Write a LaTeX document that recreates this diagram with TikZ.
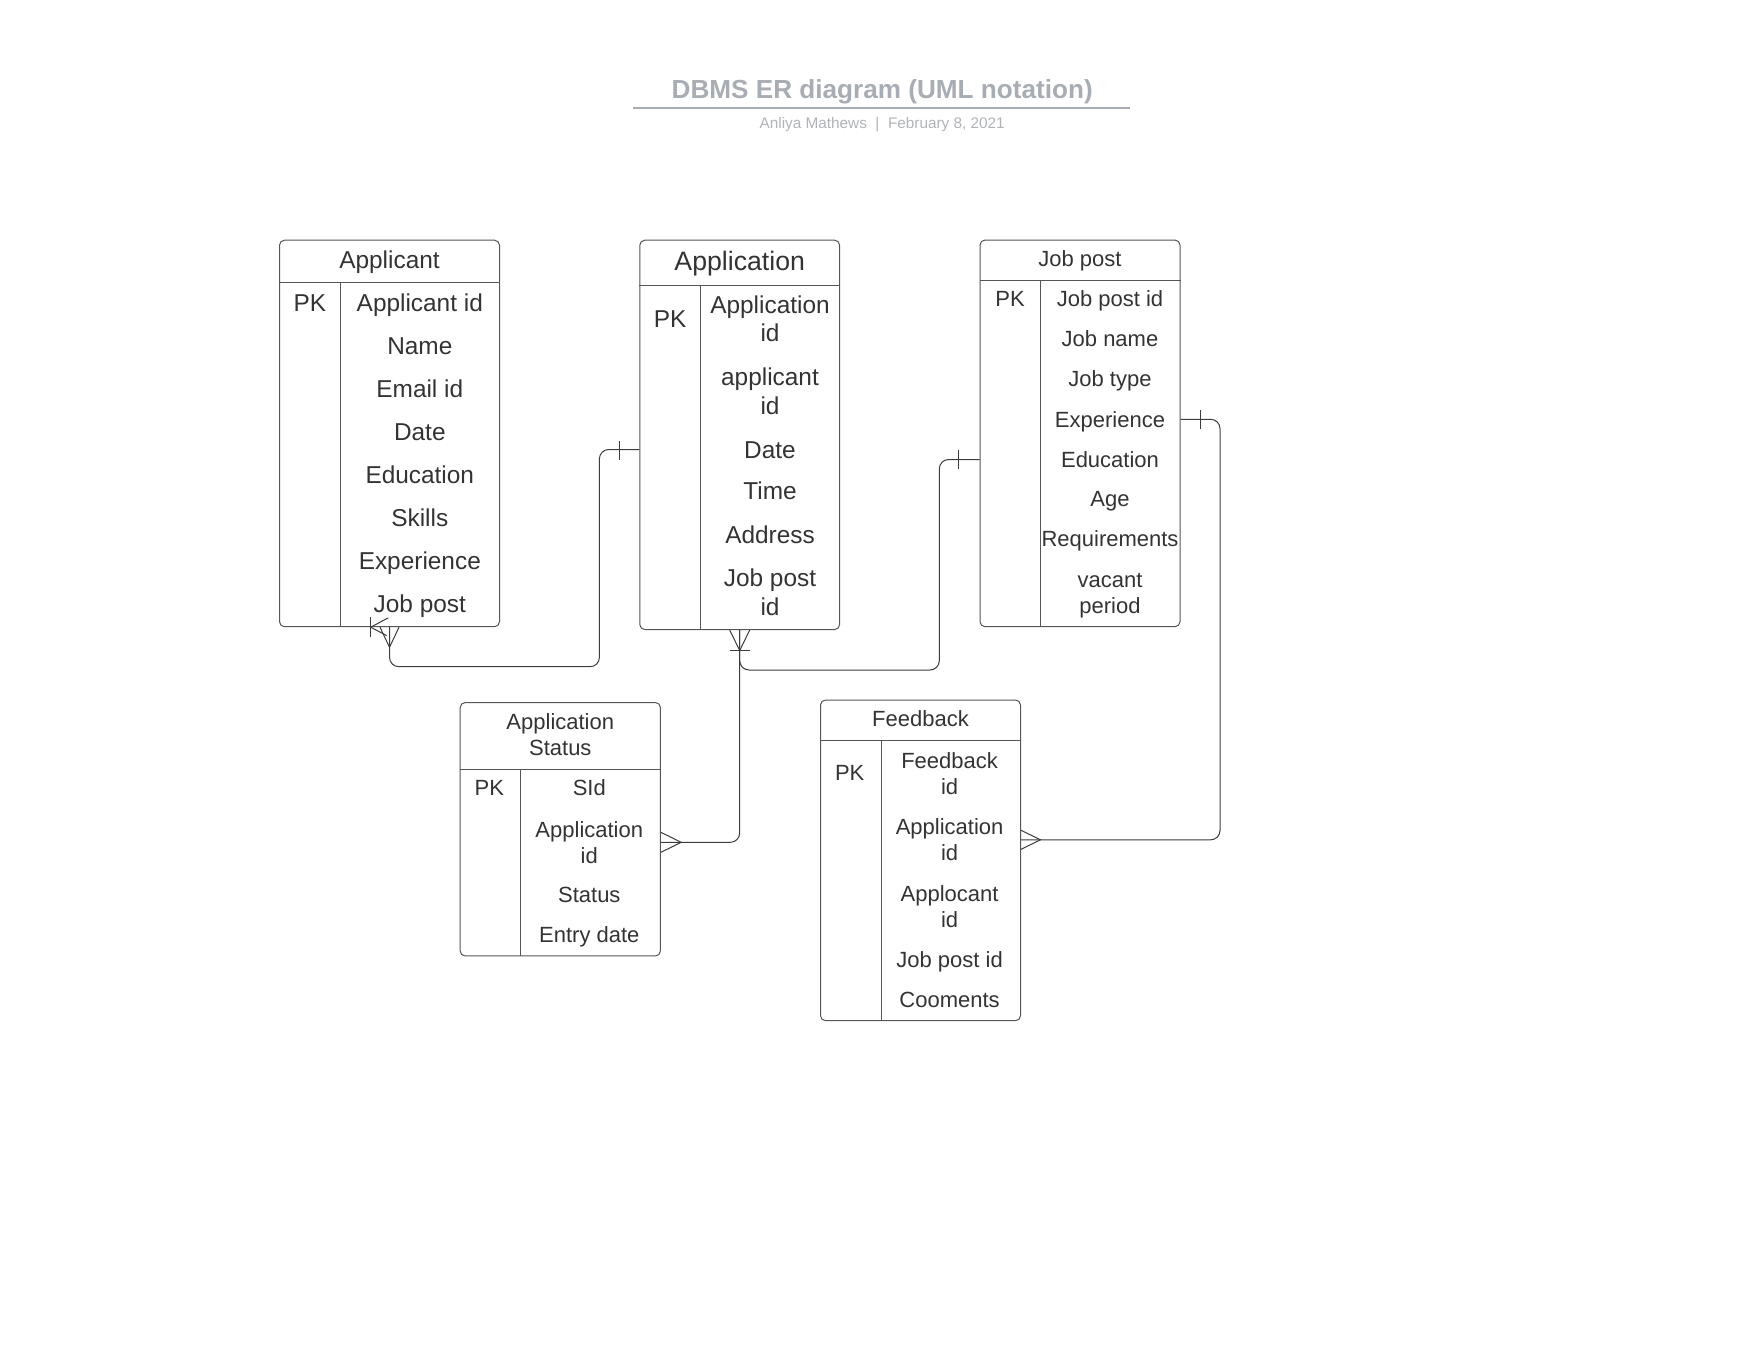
\documentclass[tikz,border=0pt]{standalone}
\usepackage{fontspec}
\setmainfont{Liberation Sans}

\definecolor{boxline}{HTML}{555555}
\definecolor{relline}{HTML}{3C3C3C}
\definecolor{txt}{HTML}{333333}
\definecolor{titlegray}{HTML}{A8ACB3}
\definecolor{subgray}{HTML}{B0B3B8}

\tikzset{every picture/.style={line width=0.75pt}}
\tikzset{
	entity/.style={draw=boxline, rounded corners=3.75pt, inner sep=0pt},
	sepline/.style={draw=boxline},
	cell/.style={inner sep=0pt, text=txt, align=center},
	bigtxt/.style={font=\fontsize{18.3}{21.4}\selectfont},
	smalltxt/.style={font=\fontsize{16.5}{19.5}\selectfont},
	headtxt/.style={font=\fontsize{20}{24}\selectfont},
	bigline/.style={bigtxt, text height=16.8pt, text depth=3.7pt},
	smallline/.style={smalltxt, text height=15.2pt, text depth=3.3pt},
	headline/.style={headtxt, text height=18.4pt, text depth=4pt},
	rel/.style={draw=relline, rounded corners=7pt},
	endmark/.style={draw=relline}}

\begin{document}
\begin{tikzpicture}[x=0.75pt,y=0.75pt,yscale=-1,xscale=1]
	\useasboundingbox (0,0) rectangle (1760,1360);

	% Text Node
	\node (title) [text=titlegray, font=\fontsize{19.6}{23}\selectfont\bfseries, inner sep=0pt] at (882.2,92) {DBMS ER diagram (UML notation)};
	%Straight Lines
	\draw [titlegray, line width=1.2pt] (633,107.8) -- (1130.3,107.8) ;
	% Text Node
	\node (subtitle) [text=subgray, font=\fontsize{11.5}{13}\selectfont, inner sep=0pt] at (882.2,124.6) {Anliya Mathews\ \ |\ \ February 8, 2021};

	%Shape: Entity Applicant
	\node (applicant) [entity, minimum width=165pt, minimum height=289.9pt] at (389.5,433.45) {};
	\draw [sepline] (applicant.west |- 0,282.8) -- (applicant.east |- 0,282.8) ;
	\draw [sepline] (340.1,282.8) -- (340.1,282.8 |- applicant.south) ;
	%Shape: Entity Application
	\node (application) [entity, minimum width=149.85pt, minimum height=292pt] at (739.7,434.85) {};
	\draw [sepline] (application.west |- 0,285.8) -- (application.east |- 0,285.8) ;
	\draw [sepline] (700.4,285.8) -- (700.4,285.8 |- application.south) ;
	%Shape: Entity Job post
	\node (jobpost) [entity, minimum width=150pt, minimum height=290pt] at (1080,433.35) {};
	\draw [sepline] (jobpost.west |- 0,280.7) -- (jobpost.east |- 0,280.7) ;
	\draw [sepline] (1040.7,280.7) -- (1040.7,280.7 |- jobpost.south) ;
	%Shape: Entity Application Status
	\node (status) [entity, minimum width=150.15pt, minimum height=190.1pt] at (560.3,829.25) {};
	\draw [sepline] (status.west |- 0,769.3) -- (status.east |- 0,769.3) ;
	\draw [sepline] (520.8,769.3) -- (520.8,769.3 |- status.south) ;
	%Shape: Entity Feedback
	\node (feedback) [entity, minimum width=150pt, minimum height=240.5pt] at (920.5,860.35) {};
	\draw [sepline] (feedback.west |- 0,740) -- (feedback.east |- 0,740) ;
	\draw [sepline] (881.1,740) -- (881.1,740 |- feedback.south) ;

	% Text Node
	\node (ac-title) [cell, bigline] at (389.5,259.3) {Applicant};
	\node (ac-pk) [cell, bigline] at (309.8,303) {PK};
	\node (ac-id) [cell, bigline] at (419.8,303) {Applicant id};
	\node (ac-name) [cell, bigline] at (419.8,345.7) {Name};
	\node (ac-mail) [cell, bigline] at (419.8,388.4) {Email id};
	\node (ac-date) [cell, bigline] at (419.8,432) {Date};
	\node (ac-edu) [cell, bigline] at (419.8,474.8) {Education};
	\node (ac-skill) [cell, bigline] at (419.8,517.4) {Skills};
	\node (ac-exp) [cell, bigline] at (419.8,561.2) {Experience};
	\node (ac-job) [cell, bigline] at (419.8,603.6) {Job post};
	% Text Node
	\node (ap-title) [cell, headline] at (739.7,260.4) {Application};
	\node (ap-pk) [cell, bigline] at (670.1,318.8) {PK};
	\node (ap-id) [cell, bigtxt] at (770,319) {Application\\id};
	\node (ap-ac) [cell, bigtxt] at (770,391.5) {applicant\\id};
	\node (ap-date) [cell, bigline] at (770,449.5) {Date};
	\node (ap-time) [cell, bigline] at (770,491.2) {Time};
	\node (ap-addr) [cell, bigline] at (770,534.3) {Address};
	\node (ap-job) [cell, bigtxt] at (770,592.1) {Job post\\id};
	% Text Node
	\node (jp-title) [cell, smallline] at (1080,259) {Job post};
	\node (jp-pk) [cell, smallline] at (1010,299) {PK};
	\node (jp-id) [cell, smallline] at (1110,299) {Job post id};
	\node (jp-name) [cell, smallline] at (1110,339) {Job name};
	\node (jp-type) [cell, smallline] at (1110,379) {Job type};
	\node (jp-exp) [cell, smallline] at (1110,419.3) {Experience};
	\node (jp-edu) [cell, smallline] at (1110,459.5) {Education};
	\node (jp-age) [cell, smallline] at (1110,499) {Age};
	\node (jp-req) [cell, smallline] at (1110,539) {Requirements};
	\node (jp-vac) [cell, smalltxt] at (1110,595.8) {vacant\\period};
	% Text Node
	\node (st-title) [cell, smalltxt] at (560.3,734.2) {Application\\Status};
	\node (st-pk) [cell, smallline] at (489.4,787.7) {PK};
	\node (st-id) [cell, smallline] at (589.3,787.7) {SId};
	\node (st-app) [cell, smalltxt] at (589.3,842.3) {Application\\id};
	\node (st-stat) [cell, smallline] at (589.3,895) {Status};
	\node (st-date) [cell, smallline] at (589.3,934.3) {Entry date};
	% Text Node
	\node (fb-title) [cell, smallline] at (920.5,719) {Feedback};
	\node (fb-pk) [cell, smallline] at (849.7,772.3) {PK};
	\node (fb-id) [cell, smalltxt] at (949.6,773.5) {Feedback\\id};
	\node (fb-app) [cell, smalltxt] at (949.6,839.8) {Application\\id};
	\node (fb-ac) [cell, smalltxt] at (949.6,906.3) {Applocant\\id};
	\node (fb-job) [cell, smallline] at (949.6,959.3) {Job post id};
	\node (fb-com) [cell, smallline] at (949.6,999.3) {Cooments};

	%Straight Lines: Applicant -- Application
	\draw [rel] (application.west |- ap-date) -| (599.4,666.7) -| (applicant.south) ;
	\draw [endmark] (application.west |- ap-date) ++(-20.2,-9) -- ++(0,19) ;
	\draw [endmark] (applicant.south) ++(-9.5,0) -- ++(9.5,20) -- ++(9.5,-20) ;
	\draw [endmark] (applicant.south) ++(0,0) -- ++(0,20) ;
	\draw [endmark] (applicant.south) ++(-18.8,-10) -- ++(0,20) ;
	\draw [endmark] (applicant.south) ++(-1.2,-9.4) -- ++(-17.6,9.4) -- ++(16,8.4) ;
	%Straight Lines: Application -- Job post
	\draw [rel] (application.south) |- (939.3,670) |- (jobpost.west |- jp-edu) ;
	\draw [endmark] (application.south) ++(-10,0) -- ++(10,20.5) -- ++(10,-20.5) ;
	\draw [endmark] (application.south) ++(-10,20.5) -- ++(20,0) ;
	\draw [endmark] (jobpost.west |- jp-edu) ++(-20.7,-9.5) -- ++(0,19) ;
	%Straight Lines: Application -- Application Status
	\draw [rel] (application.south) |- (status.east |- st-app) ;
	\draw [endmark] (status.east |- st-app) ++(0,-10) -- ++(20.3,10) -- ++(-20.3,10) ;
	%Straight Lines: Job post -- Feedback
	\draw [rel] (jobpost.east |- jp-exp) -| (1220,839.8) -- (feedback.east |- fb-app) ;
	\draw [endmark] (jobpost.east |- jp-exp) ++(20,-9.5) -- ++(0,19.3) ;
	\draw [endmark] (feedback.east |- fb-app) ++(0,-9.5) -- ++(19.5,9.5) -- ++(-19.5,9.5) ;

\end{tikzpicture}
\end{document}
